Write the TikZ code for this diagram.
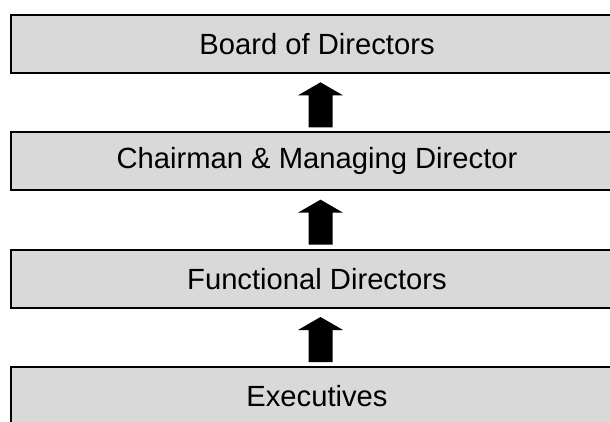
\documentclass[tikz,border=0pt]{standalone}
\usepackage{fontspec}
\setmainfont{Liberation Sans}
\definecolor{boxgray}{RGB}{217,217,217}

\begin{document}
\begin{tikzpicture}[x=0.75pt,y=-0.75pt,
    levelbox/.style={draw, line width=1.5pt, fill=boxgray, rectangle,
        minimum width=459pt, minimum height=43.5pt, inner sep=0pt,
        font=\fontsize{21.9}{26}\selectfont}]
    \useasboundingbox (0,0) rectangle (610,421);
    \clip (0,0) rectangle (610,421);
    \matrix (org) at (317,220) [nodes={levelbox}, row sep=43pt] {
    \node (board) {Board of Directors};\\
    \node (chair) {Chairman \& Managing Director};\\
    \node (func) {Functional Directors};\\
    \node (exec) {Executives};\\
    };
    % block arrows pointing up to the next level
    \foreach \lower in {chair,func,exec}
        \fill[shift={(\lower.north)}] (-8.5,-4) -- (15.5,-4) -- (15.5,-36)
            -- (26,-36) -- (3.5,-49) -- (-19,-36) -- (-8.5,-36) -- cycle;
\end{tikzpicture}
\end{document}
